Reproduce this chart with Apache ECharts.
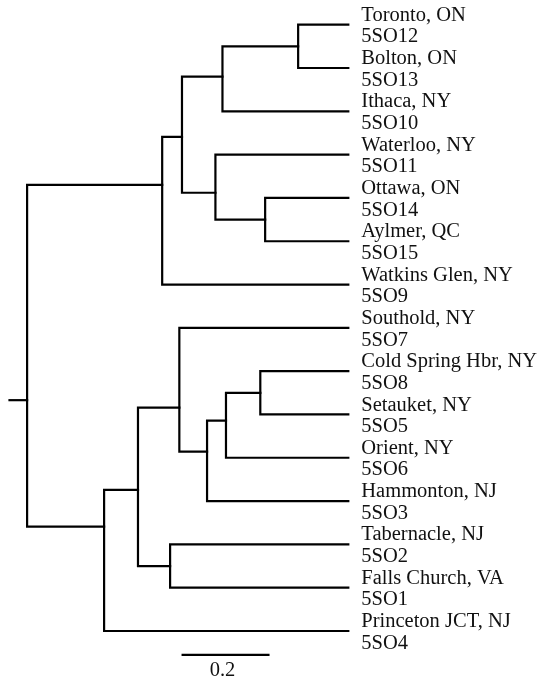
<!DOCTYPE html>
<html><head><meta charset="utf-8">
<script src="https://cdn.jsdelivr.net/npm/echarts@6/dist/echarts.min.js"></script>
<style>html,body{margin:0;padding:0;background:#fff}#c{width:539px;height:678px}</style>
</head><body><div id="c"></div>
<script>
// Leaves (top to bottom)
const leafNames = ["Toronto, ON","Bolton, ON","Ithaca, NY","Waterloo, NY","Ottawa, ON","Aylmer, QC","Watkins Glen, NY","Southold, NY","Cold Spring Hbr, NY","Setauket, NY","Orient, NY","Hammonton, NJ","Tabernacle, NJ","Falls Church, VA","Princeton JCT, NJ"];
const leafCodes = ["5SO12","5SO13","5SO10","5SO11","5SO14","5SO15","5SO9","5SO7","5SO8","5SO5","5SO6","5SO3","5SO2","5SO1","5SO4"];
// Merges: ids 0-14 are leaves, merge k gets id 15+k
const mergeChildren = [[0,1],[4,5],[8,9],[15,2],[17,10],[3,16],[19,11],[18,20],[7,21],[12,13],[22,6],[23,24],[26,14],[25,27]];
// Node height (distance from tips, tree units)
const mergeHeights = [0.114,0.189,0.200,0.286,0.278,0.302,0.321,0.378,0.384,0.405,0.423,0.478,0.555,0.730];
// Node vertical position in leaf-row units
const mergeRows = [0.5,4.5,8.5,1.2,9.14,3.88,9.86,2.59,8.84,12.5,3.70,10.74,11.59,8.67];
const rootStub = 0.040;
const scaleBarLength = 0.2;
const scaleBarLabel = "0.2";

const nLeaf = leafNames.length;
function nodeH(id){ return id < nLeaf ? 0 : mergeHeights[id - nLeaf]; }
function nodeR(id){ return id < nLeaf ? id : mergeRows[id - nLeaf]; }

const treeData = mergeChildren.map((c, k) => [mergeHeights[k], mergeRows[k], nodeH(c[0]), nodeR(c[0]), nodeH(c[1]), nodeR(c[1])]);
const rootIdx = mergeChildren.length - 1;
const stubData = [[mergeHeights[rootIdx], mergeRows[rootIdx], mergeHeights[rootIdx] + rootStub]];
const leafData = leafNames.map((n, i) => [0, i]);
const scaleData = [[0.379, 14.55]];

const lineStyle = {stroke: '#000', lineWidth: 2.2, fill: null, lineJoin: 'miter', lineCap: 'square'};
const font = 'Liberation Serif';

const chart = echarts.init(document.getElementById('c'), null, {renderer: 'canvas'});
chart.setOption({
  animation: false,
  backgroundColor: '#fff',
  grid: {left: 5.1, right: 190.7, top: 24.7, bottom: 47},
  xAxis: {type: 'value', inverse: true, min: 0, max: 0.78, show: false},
  yAxis: {type: 'value', inverse: true, min: 0, max: 14, show: false},
  series: [
    {
      type: 'custom', data: treeData, clip: false, silent: true,
      renderItem(params, api) {
        const d = treeData[params.dataIndex];
        const p = [
          api.coord([d[2], d[3]]),
          api.coord([d[0], d[3]]),
          api.coord([d[0], d[5]]),
          api.coord([d[4], d[5]])
        ];
        return {type: 'polyline', shape: {points: p}, style: lineStyle};
      }
    },
    {
      type: 'custom', data: stubData, clip: false, silent: true,
      renderItem(params, api) {
        const d = stubData[params.dataIndex];
        const a = api.coord([d[0], d[1]]), b = api.coord([d[2], d[1]]);
        return {type: 'line', shape: {x1: a[0], y1: a[1], x2: b[0], y2: b[1]}, style: lineStyle};
      }
    },
    {
      type: 'custom', data: leafData, clip: false, silent: true,
      renderItem(params, api) {
        const i = params.dataIndex;
        const p = api.coord(leafData[i]);
        return {type: 'text', x: p[0] + 13, y: p[1] + 1.5,
          style: {text: leafNames[i] + '\n' + leafCodes[i], fill: '#111',
            fontFamily: font, fontSize: 20.5, lineHeight: 21.6, align: 'left', verticalAlign: 'middle'}};
      }
    },
    {
      type: 'custom', data: scaleData, clip: false, silent: true,
      renderItem(params, api) {
        const d = scaleData[0];
        const a = api.coord([d[0], d[1]]), b = api.coord([d[0] - scaleBarLength, d[1]]);
        return {type: 'group', children: [
          {type: 'line', shape: {x1: a[0], y1: a[1], x2: b[0], y2: b[1]}, style: {stroke: '#000', lineWidth: 2.2}},
          {type: 'text', x: (a[0] + b[0]) / 2 - 3, y: a[1] + 16,
            style: {text: scaleBarLabel, fill: '#111', fontFamily: font, fontSize: 20.5, align: 'center', verticalAlign: 'middle'}}
        ]};
      }
    }
  ]
});
</script>
</body></html>
